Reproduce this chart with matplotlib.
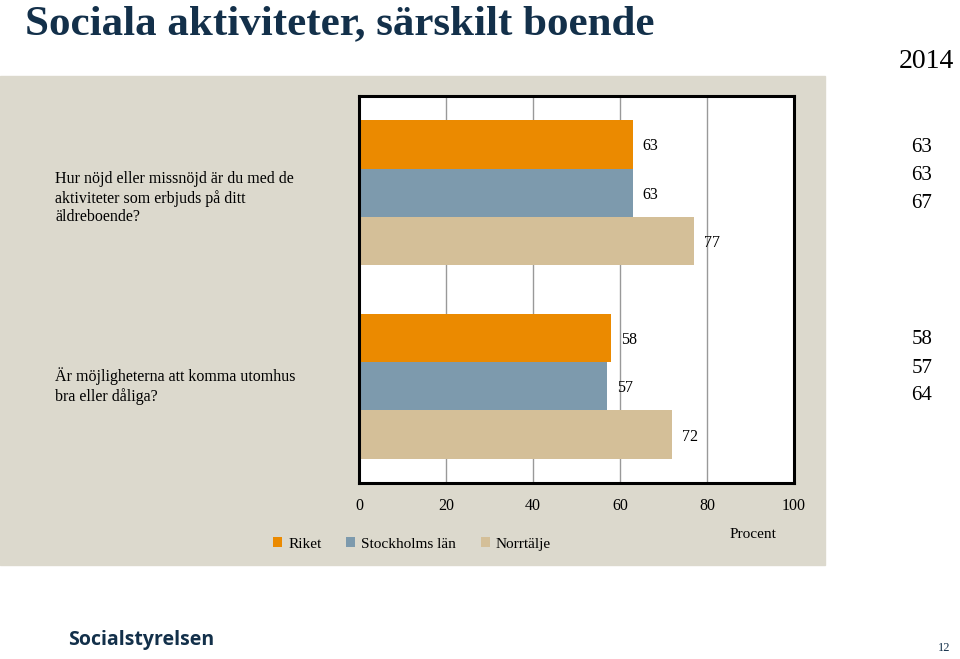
import numpy as np
import matplotlib
matplotlib.use("Agg")
import matplotlib.pyplot as plt
from matplotlib.patches import Rectangle, Patch

plt.rcParams['font.family'] = ['Liberation Serif', 'DejaVu Serif']

# data
questions = ["Hur nöjd eller missnöjd är du med de\naktiviteter som erbjuds på ditt\näldreboende?",
             "Är möjligheterna att komma utomhus\nbra eller dåliga?"]
series = ["Riket", "Stockholms län", "Norrtälje"]
riket = [63, 58]
stockholm = [63, 57]
norrtalje = [77, 72]
# numbers shown at the right side of the panel
right_vals = [[63, 63, 67], [58, 57, 64]]
xticks = [0, 20, 40, 60, 80, 100]

colors = ["#eb8a00", "#7d9aad", "#d4bf98"]
navy = "#13304a"
panel = "#dcd9cd"

W, H = 960, 659
fig = plt.figure(figsize=(W / 100, H / 100), dpi=100)

def fx(px):
    return px / W

def fy(py):
    return 1 - py / H

# beige panel behind the chart
fig.patches.append(Rectangle((0, fy(565)), fx(825), fy(76) - fy(565),
                             transform=fig.transFigure, color=panel, zorder=-10))

ax = fig.add_axes([fx(359), fy(483), fx(794) - fx(359), fy(96) - fy(483)])
ax.set_zorder(1)
ax.set_facecolor("white")

h = 0.25
y = np.arange(len(questions))
all_vals = [riket, stockholm, norrtalje]
for k, (vals, c) in enumerate(zip(all_vals, colors)):
    pos = y + (k - 1) * h
    ax.barh(pos, vals, height=h, color=c, label=series[k], zorder=2)
    for p, v in zip(pos, vals):
        ax.annotate(str(v), (v, p), xytext=(7, -1.5), textcoords="offset points",
                    va="center", ha="left", fontsize=11.5, color="black", zorder=3)

ax.set_xlim(0, 100)
ax.set_ylim(1.5, -0.5)
ax.set_xticks(xticks)
ax.set_xticklabels([str(t) for t in xticks], fontsize=11.5)
ax.tick_params(axis="x", length=0, pad=11)
ax.set_yticks([])
ax.grid(axis="x", color="#999999", linewidth=1, zorder=1)
for s in ax.spines.values():
    s.set_linewidth(2.2)
    s.set_color("black")

# question labels
fig.text(fx(55), fy(198), questions[0], fontsize=11.5, va="center", ha="left",
         linespacing=1.2, color="black")
fig.text(fx(55), fy(386), questions[1], fontsize=11.5, va="center", ha="left",
         linespacing=1.2, color="black")

# right side numbers
for g, yc in zip(right_vals, [176, 368]):
    for i, v in enumerate(g):
        fig.text(fx(922), fy(yc + (i - 1) * 28), str(v), fontsize=15,
                 ha="center", va="center", color="black")

# title and year
fig.text(fx(25), fy(34), "Sociala aktiviteter, särskilt boende", fontsize=31,
         fontweight="bold", color=navy, ha="left", va="baseline")
fig.text(fx(926), fy(62), "2014", fontsize=20, color="black", ha="center", va="center")

# legend
handles = [Patch(facecolor=c, edgecolor="none") for c in colors]
fig.legend(handles, series, loc="center", bbox_to_anchor=(fx(412), fy(544)), ncol=3,
           frameon=False, fontsize=11, handlelength=0.6, handleheight=0.6,
           handletextpad=0.4, columnspacing=1.6)
fig.text(fx(753), fy(535), "Procent", fontsize=11, ha="center", va="center")

# footer
fig.text(fx(68), fy(640), "Socialstyrelsen", fontsize=14, fontweight="bold",
         family=["Open Sans", "DejaVu Sans"], color=navy, ha="left", va="center")
fig.text(fx(944), fy(648), "12", fontsize=9, color=navy, ha="center", va="center")

fig.savefig("out.png", dpi=100)
